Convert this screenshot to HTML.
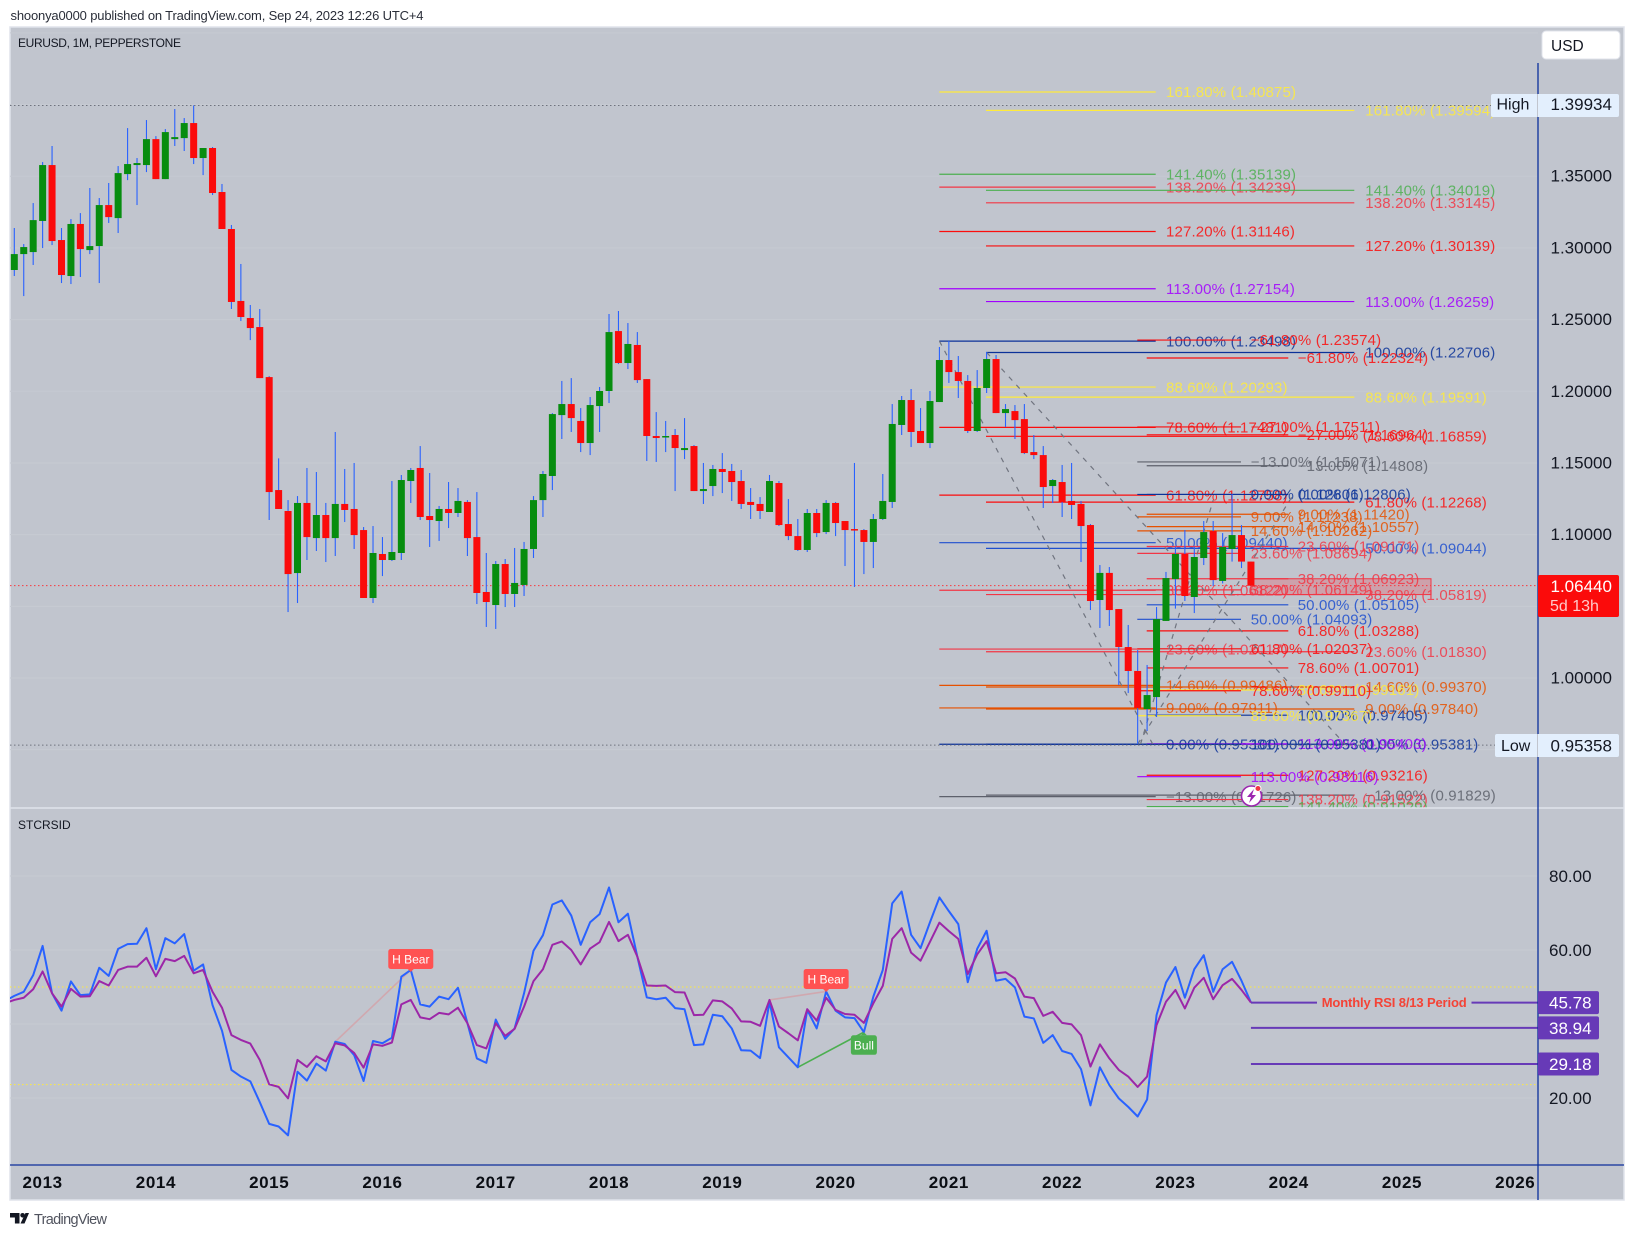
<!DOCTYPE html>
<html lang="en">
<head>
<meta charset="utf-8">
<title>EURUSD 1M chart</title>
<style>
html,body{margin:0;padding:0;background:#fff;width:1634px;height:1236px;overflow:hidden}
svg{display:block;font-family:"Liberation Sans",sans-serif}
</style>
</head>
<body>
<svg id="chart" xmlns="http://www.w3.org/2000/svg" width="1634" height="1236" viewBox="0 0 1634 1236">
  <defs>
    <clipPath id="price-clip"><rect x="10" y="27" width="1528" height="781"/></clipPath>
    <clipPath id="rsi-clip"><rect x="10" y="809" width="1528" height="356"/></clipPath>
  </defs>
  <rect x="0" y="0" width="1634" height="1236" fill="#ffffff"/>
  <text x="10.5" y="20" font-size="13" fill="#2a2e39" textLength="413">shoonya0000 published on TradingView.com, Sep 24, 2023 12:26 UTC+4</text>
  <rect x="10" y="27" width="1614" height="1173" fill="#c1c5ce" stroke="#e0e3eb" stroke-width="1.5"/>
  <g id="grid"></g>
  <g id="fibs" clip-path="url(#price-clip)"></g>
  <g id="markers" clip-path="url(#price-clip)"></g>
  <g id="candles" clip-path="url(#price-clip)"></g>
  <g id="rsi" clip-path="url(#rsi-clip)"></g>
  <line x1="10" y1="808" x2="1624" y2="808" stroke="#e0e3eb" stroke-width="1.5"/>
  <line x1="10" y1="1165" x2="1624" y2="1165" stroke="#0c2f9c" stroke-width="1.3"/>
  <line x1="1538" y1="63" x2="1538" y2="1200" stroke="#0c2f9c" stroke-width="1.3"/>
  <g id="axes"></g>
  <text x="18" y="47" font-size="12" fill="#131722" textLength="163">EURUSD, 1M, PEPPERSTONE</text>
  <text x="18" y="829" font-size="12" fill="#131722">STCRSID</text>
  <g>
    <rect x="1542" y="31" width="78" height="28" rx="4" fill="#ffffff" stroke="#e0e3eb"/>
    <text x="1551" y="51" font-size="15.5" fill="#131722">USD</text>
  </g>
  <g>
    <rect x="1491" y="94" width="128" height="23" rx="2" fill="#e3effd"/>
    <line x1="1537.5" y1="94" x2="1537.5" y2="117" stroke="#c1c5ce"/>
    <text x="1496.5" y="109.5" font-size="16" fill="#131722">High</text>
    <text x="1550.5" y="110" font-size="17" fill="#131722">1.39934</text>
  </g>
  <g>
    <rect x="1495" y="734" width="124" height="23" rx="2" fill="#e3effd"/>
    <line x1="1537.5" y1="734" x2="1537.5" y2="757" stroke="#c1c5ce"/>
    <text x="1501" y="751" font-size="16" fill="#131722">Low</text>
    <text x="1550.5" y="751.5" font-size="17" fill="#131722">0.95358</text>
  </g>
  <g>
    <rect x="1538" y="575" width="81" height="42" rx="2" fill="#fb0b0b"/>
    <text x="1550.5" y="592" font-size="17" fill="#ffffff">1.06440</text>
    <text x="1550" y="611" font-size="16" fill="#ffc9c9">5d 13h</text>
  </g>
  <g>
    <circle cx="1251.5" cy="796" r="10" fill="#ffffff" stroke="#9c27b0" stroke-width="1.6"/>
    <polygon points="1254,789 1247,797 1251,797 1249,803 1256,795 1252,795" fill="#9c27b0"/>
    <circle cx="1258" cy="788.5" r="3" fill="#f23645" stroke="#ffffff"/>
  </g>
  <g>
    <path d="M10 1213h9.5v10.5h-4.6v-6H10z" fill="#131722"/>
    <circle cx="22.6" cy="1215.3" r="2.3" fill="#131722"/>
    <polygon points="25.5,1213 29,1213 24.5,1223.5 20.5,1223.5" fill="#131722"/>
    <text x="34" y="1224" font-size="14.5" fill="#50535e" textLength="73">TradingView</text>
  </g>
</svg>
<script>
/* ---------- candle data (EURUSD monthly, prices) ---------- */
const opens=[1.2846,1.2957,1.2971,1.3188,1.3578,1.3055,1.2804,1.3167,1.2985,1.3013,
1.3299,1.3208,1.3515,1.3578,1.3578,1.3759,1.3480,1.3759,1.3766,1.3871,
1.3627,1.3697,1.3390,1.3132,1.2630,1.2511,1.2448,1.2099,1.1311,1.1165,
1.0732,1.1221,1.0976,1.1137,1.0976,1.1214,1.1179,1.1032,1.0558,1.0865,
1.0823,1.0872,1.1374,1.1465,1.1130,1.1095,1.1179,1.1151,1.1228,1.0983,
1.0600,1.0509,1.0795,1.0586,1.0649,1.0900,1.1241,1.1409,1.1834,1.1911,
1.1793,1.1639,1.1897,1.2002,1.2420,1.2197,1.2323,1.2085,1.1688,1.1681,
1.1695,1.1590,1.1618,1.1304,1.1339,1.1458,1.1444,1.1374,1.1228,1.1214,
1.1158,1.1360,1.1074,1.0990,1.0893,1.1151,1.1018,1.1221,1.1095,1.1039,
1.1032,1.0949,1.1109,1.1228,1.1765,1.1939,1.1723,1.1639,1.1925,1.2218,
1.2134,1.2072,1.1723,1.2023,1.2225,1.1848,1.1862,1.1806,1.1576,1.1555,
1.1339,1.1367,1.1235,1.1214,1.1067,1.0544,1.0733,1.0481,1.0216,1.0049,
0.9784,0.9867,1.0398,1.0690,1.0865,1.0565,1.0837,1.1025,1.0677,1.0900,
1.0997,1.0812];
const closes=[1.2957,1.3006,1.3194,1.3578,1.3048,1.2811,1.3167,1.2992,1.3013,1.3299,
1.3215,1.3522,1.3585,1.3592,1.3759,1.3480,1.3808,1.3773,1.3871,1.3627,
1.3697,1.3383,1.3132,1.2623,1.2518,1.2441,1.2092,1.1297,1.1179,1.0725,
1.1221,1.0983,1.1137,1.0976,1.1214,1.1172,1.0997,1.0558,1.0872,1.0823,
1.0879,1.1381,1.1451,1.1123,1.1102,1.1179,1.1151,1.1235,1.0976,1.0593,
1.0530,1.0795,1.0586,1.0663,1.0900,1.1241,1.1423,1.1841,1.1911,1.1813,
1.1639,1.1904,1.2002,1.2413,1.2197,1.2330,1.2078,1.1688,1.1674,1.1688,
1.1604,1.1604,1.1304,1.1318,1.1458,1.1437,1.1367,1.1214,1.1207,1.1165,
1.1374,1.1067,1.0990,1.0893,1.1151,1.1011,1.1221,1.1081,1.1032,1.1032,
1.0949,1.1109,1.1235,1.1772,1.1939,1.1716,1.1639,1.1932,1.2218,1.2134,
1.2072,1.1723,1.2023,1.2225,1.1848,1.1876,1.1799,1.1569,1.1555,1.1332,
1.1381,1.1228,1.1207,1.1060,1.0537,1.0733,1.0474,1.0216,1.0049,0.9791,
0.9881,1.0411,1.0697,1.0865,1.0572,1.0844,1.1018,1.0683,1.0914,1.0997,
1.0812,1.0644];
const highs=[1.3139,1.3027,1.3313,1.3599,1.3711,1.3139,1.3201,1.3243,1.3418,1.3348,
1.3453,1.3571,1.3836,1.3627,1.3892,1.3780,1.3829,1.3969,1.3906,1.3994,
1.3697,1.3704,1.3446,1.3160,1.2888,1.2602,1.2574,1.2106,1.1532,1.1241,
1.1269,1.1465,1.1437,1.1221,1.1716,1.1458,1.1500,1.1053,1.1060,1.0983,
1.1374,1.1416,1.1465,1.1618,1.1430,1.1200,1.1367,1.1325,1.1241,1.1297,
1.0872,1.0816,1.0830,1.0907,1.0949,1.1269,1.1444,1.1848,1.2072,1.2092,
1.1883,1.1960,1.2030,1.2539,1.2560,1.2476,1.2413,1.2085,1.1855,1.1793,
1.1737,1.1813,1.1625,1.1500,1.1486,1.1569,1.1493,1.1451,1.1325,1.1262,
1.1416,1.1374,1.1248,1.1109,1.1179,1.1179,1.1241,1.1228,1.1095,1.1500,
1.1039,1.1144,1.1423,1.1911,1.1967,1.2016,1.1883,1.2002,1.2309,1.2351,
1.2246,1.2113,1.2148,1.2274,1.2253,1.1911,1.1904,1.1911,1.1695,1.1618,
1.1388,1.1486,1.1500,1.1235,1.1074,1.0788,1.0774,1.0481,1.0370,1.0195,
1.0091,1.0495,1.0740,1.0916,1.1032,1.0916,1.1095,1.1095,1.1011,1.1283,
1.1067,1.0812];
const lows=[1.2804,1.2664,1.2881,1.2999,1.3020,1.2755,1.2748,1.2797,1.2957,1.2755,
1.3174,1.3104,1.3473,1.3299,1.3529,1.3480,1.3480,1.3711,1.3676,1.3585,
1.3508,1.3369,1.3132,1.2574,1.2490,1.2357,1.2092,1.1102,1.1179,1.0460,
1.0523,1.0823,1.0886,1.0809,1.0851,1.1088,1.0900,1.0558,1.0523,1.0711,
1.0816,1.0823,1.1221,1.1102,1.0914,1.0956,1.1046,1.1123,1.0851,1.0516,
1.0356,1.0342,1.0495,1.0495,1.0572,1.0837,1.1123,1.1311,1.1667,1.1716,
1.1576,1.1555,1.1716,1.1918,1.2190,1.2155,1.2058,1.1514,1.1507,1.1576,
1.1304,1.1527,1.1304,1.1214,1.1269,1.1290,1.1235,1.1179,1.1109,1.1109,
1.1158,1.1060,1.0962,1.0886,1.0879,1.0983,1.1004,1.0990,1.0781,1.0635,
1.0725,1.0767,1.1102,1.1186,1.1695,1.1611,1.1639,1.1604,1.1925,1.2058,
1.1953,1.1709,1.1716,1.1988,1.1848,1.1751,1.1667,1.1562,1.1527,1.1186,
1.1221,1.1123,1.1109,1.0809,1.0474,1.0349,1.0363,0.9951,0.9895,0.9540,
0.9630,0.9728,1.0398,1.0484,1.0537,1.0453,1.0788,1.0642,1.0660,1.0812,
1.0767,1.0644];

/* ---------- RSI data ---------- */
const rsiFast=[47.6,48.7,53.2,61.1,48.3,43.6,51.5,47.8,48.0,55.2,53.0,60.3,61.6,61.7,65.9,54.8,63.2,61.8,64.3,54.4,
56.1,45.1,38.2,27.6,25.8,24.5,18.9,13.0,12.3,9.9,27.1,24.7,29.3,27.4,35.2,34.6,31.6,24.6,35.4,34.8,
36.3,52.8,54.6,45.3,44.7,47.4,46.7,49.8,40.2,30.7,29.5,41.2,36.0,38.8,48.3,59.8,64.0,72.3,73.4,
69.3,61.4,67.5,69.7,76.9,67.5,69.8,58.2,47.2,46.7,47.1,44.3,44.0,34.3,34.5,42.5,42.1,38.8,32.9,32.8,
30.8,46.0,33.7,31.0,28.3,43.8,38.8,48.8,43.6,41.8,41.6,37.8,47.4,54.6,72.6,75.8,64.1,60.5,67.5,74.2,
70.5,67.0,51.3,60.3,65.2,51.7,52.2,49.9,42.0,41.5,34.9,37.0,32.7,31.9,27.8,18.0,28.3,
23.5,19.9,17.6,15.0,19.6,42.4,51.2,55.4,47.1,54.8,58.6,48.7,54.8,56.8,51.7,45.8];
const rsiSlow=[46.5,47.1,49.4,54.2,48.3,44.7,49.5,47.4,47.5,51.6,50.4,54.6,55.5,55.5,57.9,52.9,57.6,57.0,58.4,53.7,
54.6,48.7,44.4,37.0,35.7,34.7,30.3,23.7,23.0,19.9,30.3,28.4,31.3,29.9,34.8,34.2,32.2,28.2,34.5,34.1,
35.0,45.3,46.5,41.8,41.3,43.0,42.6,44.4,40.2,34.3,33.4,40.2,36.8,38.7,44.7,51.6,54.8,61.4,62.3,
60.0,56.1,60.4,62.1,67.6,62.4,64.1,58.2,50.4,50.3,50.4,48.6,48.5,42.4,42.5,46.4,46.1,44.2,40.7,40.6,
39.5,46.5,39.3,37.5,35.6,44.0,40.9,47.1,43.8,42.7,42.5,40.3,45.6,50.3,63.0,65.9,59.3,57.1,62.2,67.4,
65.1,63.0,53.5,58.8,62.4,53.7,54.0,52.3,47.4,47.0,42.2,43.3,40.3,39.9,37.0,28.5,34.5,
30.7,27.6,25.8,23.0,25.8,39.7,46.0,49.2,44.2,49.8,52.5,46.7,50.5,52.2,49.2,45.8];
const rsiFastBefore=46.2;
const rsiSlowBefore=45.6;
const rsiLevelValues=[45.78,38.94,29.18];
const rsiGuideValues=[50,23.6];
const rsiTicks=[80,60,40,20];
const rsiTickLabels=["80.00","60.00","","20.00"];

/* ---------- axis labels ---------- */
const priceTicks=[1.45,1.40,1.35,1.30,1.25,1.20,1.15,1.10,1.05,1.00,0.95];
const priceTickLabels=["","","1.35000","1.30000","1.25000","1.20000","1.15000","1.10000","","1.00000",""];
const yearLabels=["2013","2014","2015","2016","2017","2018","2019","2020","2021","2022","2023","2024","2025","2026"];
const highPrice=1.39934;
const lowPrice=0.95358;
const lastPrice=1.0644;

/* ---------- fibonacci retracement levels ---------- */
const fibALevels=[161.8,141.4,138.2,127.2,113,100,88.6,78.6,61.8,50,38.2,23.6,14.6,9,0,-13];
const fibAPrices=[1.40875,1.35139,1.34239,1.31146,1.27154,1.23498,1.20293,1.17481,1.12758,1.09440,1.06122,1.02017,0.99486,0.97911,0.95381,0.91726];
const fibBLevels=[161.8,141.4,138.2,127.2,113,100,88.6,78.6,61.8,50,38.2,23.6,14.6,9,0,-13];
const fibBPrices=[1.39594,1.34019,1.33145,1.30139,1.26259,1.22706,1.19591,1.16859,1.12268,1.09044,1.05819,1.01830,0.99370,0.97840,0.95381,0.91829];
const fibCLevels=[-61.8,-27,-13,0,9,14.6,23.6,38.2,50,61.8,78.6,88.6,100,113,127.2,138.2,141.4];
const fibCPrices=[1.22324,1.16964,1.14808,1.12806,1.11420,1.10557,1.09171,1.06923,1.05105,1.03288,1.00701,0.99161,0.97405,0.95403,0.93216,0.91522,0.91029];
const fibDLevels=[-61.8,-27,-13,0,9,14.6,23.6,38.2,50,61.8,78.6,88.6,100,113];
const fibDPrices=[1.23574,1.17511,1.15071,1.12806,1.11238,1.10262,1.08694,1.06149,1.04093,1.02037,0.99110,0.97367,0.95381,0.93116];
const highlightPrices=[1.06923,1.05819];

const SVGNS="http://www.w3.org/2000/svg";
const xOf=i=>14.3+9.44*i;
const yPrice=p=>678-(p-1)*1433.6;
const yRsi=v=>1098-(v-20)*3.7;
function levelColor(l){
  if(l===161.8||l===88.6)return "#ffeb3b";
  if(l===141.4)return "#4caf50";
  if(l===138.2||l===38.2||l===23.6)return "#f23645";
  if(l===127.2||l===78.6||l===61.8||l===-27||l===-61.8)return "#fb0d0d";
  if(l===113)return "#a100ff";
  if(l===100||l===0)return "#0c3299";
  if(l===50)return "#1f4fcf";
  if(l===14.6||l===9)return "#e65100";
  return "#5d606b";
}
function add(parent,tag,attrs,text){
  const e=document.createElementNS(SVGNS,tag);
  for(const k in attrs)e.setAttribute(k,attrs[k]);
  if(text!==undefined)e.textContent=text;
  parent.appendChild(e);
  return e;
}
const grid=document.getElementById("grid");
const fibs=document.getElementById("fibs");
const markers=document.getElementById("markers");
const candles=document.getElementById("candles");
const rsi=document.getElementById("rsi");
const axes=document.getElementById("axes");

/* grid + axis labels */
priceTicks.forEach((p,i)=>{
  const g=add(grid,"line",{x1:10,x2:1538,y1:yPrice(p),y2:yPrice(p),stroke:"#c6cad2","stroke-width":1});
  
  
  if(priceTickLabels[i]){
    const t=add(axes,"text",{x:1550.5,y:yPrice(p)+5.5,"font-size":17,fill:"#131722"},priceTickLabels[i]);
    
    
  }
});
rsiTicks.forEach((v,i)=>{
  const g=add(grid,"line",{x1:10,x2:1538,y1:yRsi(v),y2:yRsi(v),stroke:"#c6cad2","stroke-width":1});
  
  
  if(rsiTickLabels[i]){
    const t=add(axes,"text",{x:1549,y:yRsi(v)+6,"font-size":17,fill:"#131722"},rsiTickLabels[i]);
    
    
  }
});
yearLabels.forEach((y,k)=>{
  const t=add(axes,"text",{x:xOf(3+12*k),y:1188,"font-size":17,"font-weight":"bold",fill:"#0b0e14","text-anchor":"middle","letter-spacing":"0.6"},y);
  
  
});

/* fib drawings */
function drawFib(name,levels,prices,x1,x2,lx){
  levels.forEach((l,i)=>{
    const c=levelColor(l),y=yPrice(prices[i]);
    const ln=add(fibs,"line",{x1:x1,x2:x2,y1:y,y2:y,stroke:c,"stroke-width":1.2});
    
    
    const label=(l<0?"\u2212"+Math.abs(l).toFixed(2):l.toFixed(2))+"% ("+prices[i].toFixed(5)+")";
    const t=add(fibs,"text",{x:lx,y:y+5.2,"font-size":15,fill:c,"fill-opacity":0.85,"letter-spacing":"0.15"},label);
    
    
  });
}
const hy1=yPrice(highlightPrices[0]),hy2=yPrice(highlightPrices[1]);
const hl=add(fibs,"rect",{x:1251,y:hy1,width:180,height:hy2-hy1,fill:"#f23645","fill-opacity":0.25,stroke:"#f23645","stroke-width":1});


drawFib('fib-a',fibALevels,fibAPrices,939.3,1155.7,1166);
drawFib('fib-b',fibBLevels,fibBPrices,986,1354.3,1365.3);
drawFib('fib-c',fibCLevels,fibCPrices,1146.7,1288.3,1297.7);
drawFib('fib-d',fibDLevels,fibDPrices,1137.3,1241,1250.7);

/* dashed fib trend lines: anchored at month index and price */
const trendFrom=[[98,1.2350],[103,1.2271],[119,0.9538],[119.3,0.9538]];
const trendTo=[[120.6,0.9538],[141,0.9535],[135.5,1.1281],[127,1.1240]];
trendFrom.forEach((a,i)=>{
  const d=add(fibs,"line",{x1:xOf(a[0]),y1:yPrice(a[1]),x2:xOf(trendTo[i][0]),y2:yPrice(trendTo[i][1]),stroke:"#70747f","stroke-width":1.2,"stroke-dasharray":"5 6"});
  
  
});

/* reference dotted lines */
const hiLine=add(markers,"line",{x1:10,x2:1491,y1:yPrice(highPrice),y2:yPrice(highPrice),stroke:"#6f737e","stroke-width":1,"stroke-dasharray":"1.5 2.5"});


const loLine=add(markers,"line",{x1:10,x2:1495,y1:yPrice(lowPrice)+0.6,y2:yPrice(lowPrice)+0.6,stroke:"#6f737e","stroke-width":1,"stroke-dasharray":"1.5 2.5"});


const lastLine=add(markers,"line",{x1:10,x2:1538,y1:yPrice(lastPrice),y2:yPrice(lastPrice),stroke:"#f9383f","stroke-width":1,"stroke-dasharray":"1.5 2.5"});



/* candles */
opens.forEach((o,i)=>{
  const c=closes[i],x=xOf(i),up=c>=o;
  const w=add(candles,"line",{x1:x,x2:x,y1:yPrice(highs[i]),y2:yPrice(lows[i]),stroke:"#2962ff","stroke-width":1.1});
  
  
  const top=yPrice(Math.max(o,c)),bot=yPrice(Math.min(o,c));
  const b=add(candles,"rect",{x:x-3.5,y:top,width:7,height:Math.max(bot-top,1.5),fill:up?"#078d0f":"#fb0b0b"});
  
  
});

/* RSI pane */
rsiGuideValues.forEach(v=>{
  const g=add(rsi,"line",{x1:10,x2:1538,y1:yRsi(v),y2:yRsi(v),stroke:"#ffeb3b","stroke-width":1,"stroke-dasharray":"1.5 2.5"});
  
  
});
function pathOf(arr,before){
  let pts=[xOf(-1)+","+yRsi(before)];
  arr.forEach((v,i)=>pts.push(xOf(i)+","+yRsi(v)));
  return pts.join(" ");
}
const bearA=add(rsi,"line",{x1:xOf(34),y1:yRsi(rsiFast[34]),x2:xOf(42),y2:yRsi(rsiFast[42]),stroke:"#ff5252","stroke-opacity":0.25,"stroke-width":1.6});


const bearB=add(rsi,"line",{x1:xOf(80),y1:yRsi(rsiSlow[80]),x2:xOf(86),y2:yRsi(rsiFast[86]),stroke:"#ff5252","stroke-opacity":0.25,"stroke-width":1.6});


const bullLn=add(rsi,"line",{x1:xOf(83),y1:yRsi(rsiFast[83]),x2:xOf(90),y2:yRsi(rsiFast[90]),stroke:"#4caf50","stroke-width":1.6});


const fastLn=add(rsi,"polyline",{points:pathOf(rsiFast,rsiFastBefore),fill:"none",stroke:"#2962ff","stroke-width":2,"stroke-linejoin":"round"});


const slowLn=add(rsi,"polyline",{points:pathOf(rsiSlow,rsiSlowBefore),fill:"none",stroke:"#9c27a8","stroke-width":2,"stroke-linejoin":"round"});



rsiLevelValues.forEach(v=>{
  const y=yRsi(v);
  const l=add(rsi,"line",{x1:xOf(131),x2:1538,y1:y,y2:y,stroke:"#673ab7","stroke-width":2});
  
  
  const r=add(axes,"rect",{x:1538,y:y-11.5,width:61,height:23,rx:2,fill:"#673ab7"});
  
  
  const t=add(axes,"text",{x:1549,y:y+6,"font-size":17,fill:"#ffffff"},v.toFixed(2));
  
  
});
const gapY=yRsi(rsiLevelValues[0]);
const gap=add(rsi,"rect",{x:1317,y:gapY-3,width:154.5,height:6,fill:"#c1c5ce"});


const rsiNote=add(rsi,"text",{x:1321.7,y:gapY+4.5,"font-size":13,"font-weight":"bold",fill:"#f44336",textLength:145},"Monthly RSI 8/13 Period");



/* divergence badges */
function badge(name,text,i,yTop,w,h,fill,pointerUp){
  const x=xOf(i);
  const r=add(rsi,"rect",{x:x-w/2,y:yTop,width:w,height:h,rx:2.5,fill:fill});
  
  
  const py=pointerUp?yTop:yTop+h,dy=pointerUp?-3:3;
  const p=add(rsi,"polygon",{points:(x-3)+","+py+" "+(x+3)+","+py+" "+x+","+(py+dy),fill:fill});
  
  
  const t=add(rsi,"text",{x:x,y:yTop+h/2+4.3,"font-size":12,fill:"#ffffff","text-anchor":"middle"},text);
  
  
}
badge('hidden-bear','H Bear',42,949,45,20,"#ff5252",false);
badge('hidden-bear','H Bear',86,969,45,20,"#ff5252",false);
badge('bull','Bull',90,1035.3,26,19.5,"#4caf50",true);
</script>
</body>
</html>
